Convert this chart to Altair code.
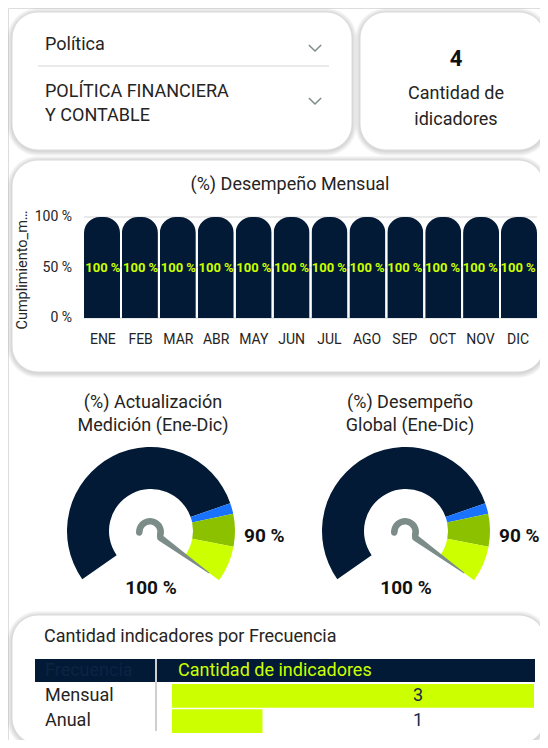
import altair as alt
import pandas as pd

# ---------------- data ----------------
filtro_titulo = "Política"
filtro_valor = ["POLÍTICA FINANCIERA", "Y CONTABLE"]
kpi_valor = 4
kpi_texto = ["Cantidad de", "idicadores"]

barras_titulo = "(%) Desempeño Mensual"
meses = ["ENE", "FEB", "MAR", "ABR", "MAY", "JUN", "JUL", "AGO", "SEP", "OCT", "NOV", "DIC"]
cumplimiento = [100, 100, 100, 100, 100, 100, 100, 100, 100, 100, 100, 100]
ticks_y = [0, 50, 100]
eje_y_titulo = "Cumplimiento_m…"

gauge_titulos = [["(%) Actualización", "Medición (Ene-Dic)"], ["(%) Desempeño", "Global (Ene-Dic)"]]
gauge_valores = [100, 100]
gauge_metas = [90, 90]
tramos = ["bajo", "alerta", "aceptable", "meta"]
tramo_desde = [0, 78, 81, 90]
tramo_hasta = [78, 81, 90, 100]

tabla_titulo = "Cantidad indicadores por Frecuencia"
tabla_cols = ["Frecuencia", "Cantidad de indicadores"]
frecuencias = ["Mensual", "Anual"]
cantidades = [3, 1]

# ---------------- style ----------------
FONT = "Roboto"
INK = "#252423"
NAVY = "#021a35"
LIME = "#ccff00"
GREEN = "#8cc100"
BLUE = "#1a73ff"
NEEDLE = "#7b8c89"

ONE = pd.DataFrame({"k": [0]})


def P(v):
    return v - 8


def txt(s, x, y, size=18, weight="normal", color=INK, align="left", angle=0):
    return alt.Chart(ONE).mark_text(
        font=FONT, fontSize=size, fontWeight=weight, color=color,
        align=align, baseline="middle", angle=angle
    ).encode(x=alt.value(P(x)), y=alt.value(P(y)), text=alt.value(s))


def card(x0, y0, x1, y1, r=26):
    out = []
    for i in [5, 4, 3, 2, 1]:
        out.append(alt.Chart(ONE).mark_rect(cornerRadius=r + i, fill="#000000", fillOpacity=0.03).encode(
            x=alt.value(P(x0 - i)), x2=alt.value(P(x1 + i)),
            y=alt.value(P(y0 - i + 1)), y2=alt.value(P(y1 + i + 1))))
    out.append(alt.Chart(ONE).mark_rect(cornerRadius=r, fill="#ffffff", stroke="#dadada", strokeWidth=1).encode(
        x=alt.value(P(x0)), x2=alt.value(P(x1)), y=alt.value(P(y0)), y2=alt.value(P(y1))))
    return out


def chevron(x, y):
    return alt.Chart(ONE).mark_point(
        shape="M-1,-0.5L0,0.5L1,-0.5", filled=False, size=150,
        stroke=NEEDLE, strokeWidth=1.5, opacity=1
    ).encode(x=alt.value(P(x)), y=alt.value(P(y)))


layers = []
layers += card(12, 12, 352, 150)
layers += card(360, 12, 545, 150)
layers += card(12, 160, 544, 372)
layers += card(12, 615, 545, 744)

# ---------- card 1: filters ----------
layers.append(txt(filtro_titulo, 45, 45))
layers.append(chevron(315, 48))
layers.append(alt.Chart(ONE).mark_rule(color="#e3e3e3", strokeWidth=1.5).encode(
    x=alt.value(P(38)), x2=alt.value(P(329)), y=alt.value(P(66))))
layers.append(txt(filtro_valor[0], 45, 92))
layers.append(txt(filtro_valor[1], 45, 116))
layers.append(chevron(315, 101))

# ---------- card 2: KPI ----------
layers.append(txt(str(kpi_valor), 456, 59, size=22, weight="bold", align="center", color="#111111"))
layers.append(txt(kpi_texto[0], 456, 94, align="center"))
layers.append(txt(kpi_texto[1], 456, 120, align="center"))

# ---------- card 3: monthly bars ----------
bar_df = pd.DataFrame({"mes": meses, "valor": cumplimiento})
tick_df = pd.DataFrame({"t": ticks_y})
X_M = alt.X("mes:N", sort=meses, scale=alt.Scale(domain=meses, range=[P(84), P(537)],
                                                  paddingInner=0.05, paddingOuter=0), axis=None)


def Y_M(f):
    return alt.Y(f, scale=alt.Scale(domain=[0, 100], range=[P(318), P(217)], nice=False), axis=None)


layers.append(txt(barras_titulo, 290, 185, align="center"))
layers.append(alt.Chart(tick_df).mark_rule(color="#e2e2e2", strokeWidth=1.5).encode(
    y=Y_M("t:Q"), x=alt.value(P(84)), x2=alt.value(P(537))))
layers.append(alt.Chart(bar_df).mark_bar(color=NAVY, cornerRadiusTopLeft=16, cornerRadiusTopRight=16).encode(
    x=X_M, y=Y_M("valor:Q")))
layers.append(alt.Chart(bar_df).transform_calculate(
    mid="datum.valor / 2", lab="datum.valor + ' %'"
).mark_text(font=FONT, fontSize=13, fontWeight="bold", color=LIME).encode(
    x=X_M, y=Y_M("mid:Q"), text="lab:N"))
layers.append(alt.Chart(tick_df).transform_calculate(lab="datum.t + ' %'").mark_text(
    font=FONT, fontSize=14, color=INK, align="right", baseline="middle").encode(
    x=alt.value(P(72)), y=Y_M("t:Q"), text="lab:N"))
layers.append(alt.Chart(bar_df).mark_text(font=FONT, fontSize=14, color=INK, baseline="middle").encode(
    x=X_M, y=alt.value(P(340)), text="mes:N"))
layers.append(txt(eje_y_titulo, 23, 270, size=14.5, align="center", angle=270))

# ---------- gauges ----------
A0, A1 = 4.10, 8.48


def gauge(cx, cy, valor, meta, titulo, tx):
    out = []
    out.append(txt(titulo[0], tx, 403, align="center"))
    out.append(txt(titulo[1], tx, 426, align="center"))
    seg = pd.DataFrame({"tramo": tramos, "desde": tramo_desde, "hasta": tramo_hasta})
    out.append(alt.Chart(seg).mark_arc(innerRadius=42, outerRadius=84).encode(
        theta=alt.Theta("desde:Q", scale=alt.Scale(domain=[0, 100], range=[A0, A1]), stack=False),
        theta2=alt.Theta2("hasta:Q"),
        color=alt.Color("tramo:N", scale=alt.Scale(domain=tramos, range=[NAVY, BLUE, GREEN, LIME]), legend=None),
        x=alt.value(P(cx)), y=alt.value(P(cy))))
    out.append(alt.Chart(ONE).mark_arc(innerRadius=7.5, outerRadius=14, cornerRadius=3, color=NEEDLE).encode(
        theta=alt.value(4.36), theta2=alt.value(8.5), x=alt.value(P(cx - 1)), y=alt.value(P(cy + 1))))
    nd = pd.DataFrame({"valor": [valor, valor], "extremo": ["base", "punta"]})
    out.append(alt.Chart(nd).transform_calculate(
        r="datum.extremo == 'base' ? 0.14 : 0.85",
        w="datum.extremo == 'base' ? 6.5 : 1",
        ang=f"{A0} + {A1 - A0} * datum.valor / 100"
    ).transform_calculate(
        nx="datum.r * sin(datum.ang)", ny="datum.r * cos(datum.ang)"
    ).mark_trail(color=NEEDLE).encode(
        x=alt.X("nx:Q", scale=alt.Scale(domain=[-1, 1], range=[P(cx - 84), P(cx + 84)], nice=False, zero=False), axis=None),
        y=alt.Y("ny:Q", scale=alt.Scale(domain=[-1, 1], range=[P(cy + 84), P(cy - 84)], nice=False, zero=False), axis=None),
        size=alt.Size("w:Q", scale=None, legend=None),
        order=alt.Order("r:Q")))
    out.append(txt(f"{meta} %", cx + 93, cy + 5, size=19, weight="bold", color="#111111"))
    out.append(txt(f"{valor} %", cx, 588, size=19, weight="bold", align="center", color="#111111"))
    return out


layers += gauge(151, 531, gauge_valores[0], gauge_metas[0], gauge_titulos[0], 153)
layers += gauge(406, 531, gauge_valores[1], gauge_metas[1], gauge_titulos[1], 410)

# ---------- table ----------
tab_df = pd.DataFrame({"frecuencia": frecuencias, "cantidad": cantidades})
Y_F = alt.Y("frecuencia:N", sort=frecuencias, scale=alt.Scale(domain=frecuencias, range=[P(684), P(733)],
                                                             paddingInner=0.06, paddingOuter=0), axis=None)
BAR_MIN = 1 / 3
layers.append(txt(tabla_titulo, 44, 637))
layers.append(alt.Chart(ONE).mark_rect(fill=NAVY).encode(
    x=alt.value(P(35)), x2=alt.value(P(535)), y=alt.value(P(659)), y2=alt.value(P(682))))
layers.append(alt.Chart(tab_df).transform_calculate(base=f"{BAR_MIN}").mark_bar(color=LIME).encode(
    x=alt.X("cantidad:Q", scale=alt.Scale(domain=[BAR_MIN, 3], range=[P(172), P(534)], zero=False, nice=False), axis=None),
    x2=alt.X2("base:Q"), y=Y_F))
layers.append(alt.Chart(ONE).mark_rule(color="#cfcfcf", strokeWidth=2).encode(
    x=alt.value(P(156)), y=alt.value(P(659)), y2=alt.value(P(731))))
layers.append(txt(tabla_cols[0], 45, 671, color="#0c2444"))
layers.append(txt(tabla_cols[1], 178, 671, color=LIME))
layers.append(alt.Chart(tab_df).mark_text(font=FONT, fontSize=18, color=INK, align="left", baseline="middle").encode(
    x=alt.value(P(45)), y=Y_F, text="frecuencia:N"))
layers.append(alt.Chart(tab_df).mark_text(font=FONT, fontSize=18, color="#1b2a4a", align="center", baseline="middle").encode(
    x=alt.value(P(418)), y=Y_F, text="cantidad:Q"))

chart = alt.layer(*layers).resolve_scale(
    x="independent", y="independent", theta="independent", color="independent", size="independent"
).properties(
    width=532, height=732, padding=0, autosize=alt.AutoSizeParams(type="none"), background="#ffffff"
).configure_view(stroke=None).configure(font=FONT)

chart.save("out.html", embed_options={"renderer": "svg", "actions": False})
